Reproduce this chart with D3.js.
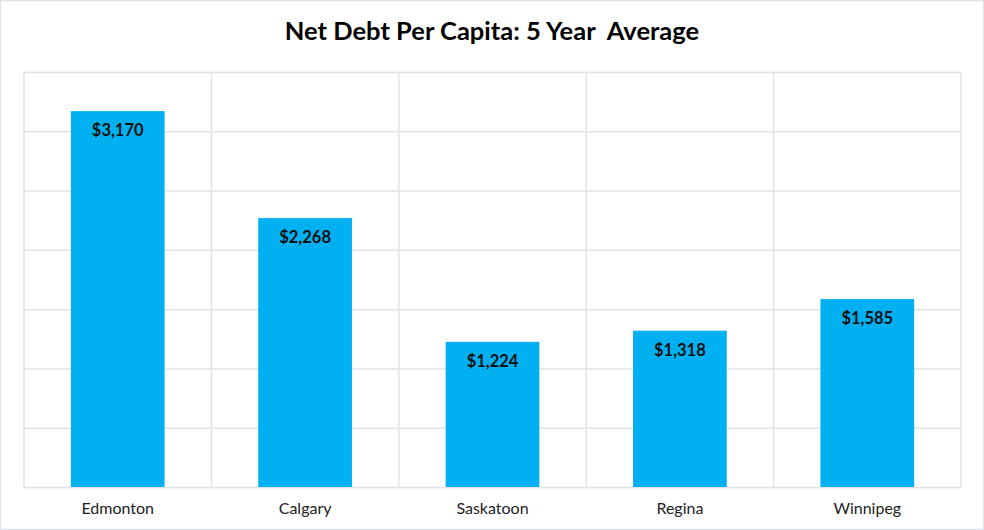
<!DOCTYPE html>
<html><head><meta charset="utf-8">
<script src="https://cdn.jsdelivr.net/npm/d3@7"></script>
<style>body{margin:0;background:#fff}svg{display:block}text{white-space:pre}</style>
</head><body>
<svg id="c" width="984" height="530"></svg>
<script>
const categories = ["Edmonton", "Calgary", "Saskatoon", "Regina", "Winnipeg"];
const values = [3170, 2268, 1224, 1318, 1585];
const valueLabels = ["$3,170", "$2,268", "$1,224", "$1,318", "$1,585"];
const yTicks = [0, 500, 1000, 1500, 2000, 2500, 3000, 3500];
const title = "Net Debt Per Capita: 5 Year  Average";

const svg = d3.select("#c");
const W = 984, H = 530;
const m = {l: 24, r: 23, t: 72, b: 43};
const font = "Lato,'Open Sans',Arial,sans-serif";
const grid = "#dfe3ea";

svg.append("rect").attr("x",0.5).attr("y",0.5).attr("width",W-1).attr("height",H-1)
  .attr("fill","#fff").attr("stroke",grid).attr("stroke-width",1.5);

const x = d3.scaleBand().domain(categories).range([m.l, W-m.r]).paddingInner(0.5).paddingOuter(0.25);
const y = d3.scaleLinear().domain([0,3500]).range([H-m.b, m.t]);

svg.append("g").attr("transform",`translate(${m.l},0)`)
  .call(d3.axisLeft(y).tickValues(yTicks).tickSize(-(W-m.l-m.r)).tickFormat(""))
  .call(g=>g.select(".domain").remove())
  .call(g=>g.selectAll("line").attr("stroke",grid).attr("stroke-width",1.5));

const step = x.step();
const bounds = d3.range(categories.length+1).map(i => m.l + i*step);
svg.append("g").selectAll("line").data(bounds).join("line")
  .attr("x1",d=>d).attr("x2",d=>d).attr("y1",y(3500)).attr("y2",y(0))
  .attr("stroke",grid).attr("stroke-width",1.5);

svg.append("g").selectAll("rect").data(values).join("rect")
  .attr("x",(d,i)=>x(categories[i])).attr("width",x.bandwidth())
  .attr("y",d=>y(d)).attr("height",d=>y(0)-y(d)).attr("fill","#00b0f0");

svg.append("g").selectAll("text").data(values).join("text")
  .attr("x",(d,i)=>x(categories[i])+x.bandwidth()/2).attr("y",d=>y(d)+25)
  .attr("text-anchor","middle").attr("font-family",font).attr("font-weight","bold")
  .attr("font-size",16.5).attr("fill","#111")
  .text((d,i)=>valueLabels[i]);

svg.append("g").attr("transform",`translate(0,${H-m.b})`)
  .call(d3.axisBottom(x).tickSize(0).tickPadding(16))
  .call(g=>g.select(".domain").remove())
  .call(g=>g.selectAll("text").attr("font-family",font).attr("font-size",16).attr("fill","#222"));

svg.append("text").attr("x",W/2).attr("y",40).attr("text-anchor","middle")
  .attr("font-family",font).attr("font-weight","bold").attr("font-size",25.5).attr("fill","#000")
  .text(title);
</script>
</body></html>
